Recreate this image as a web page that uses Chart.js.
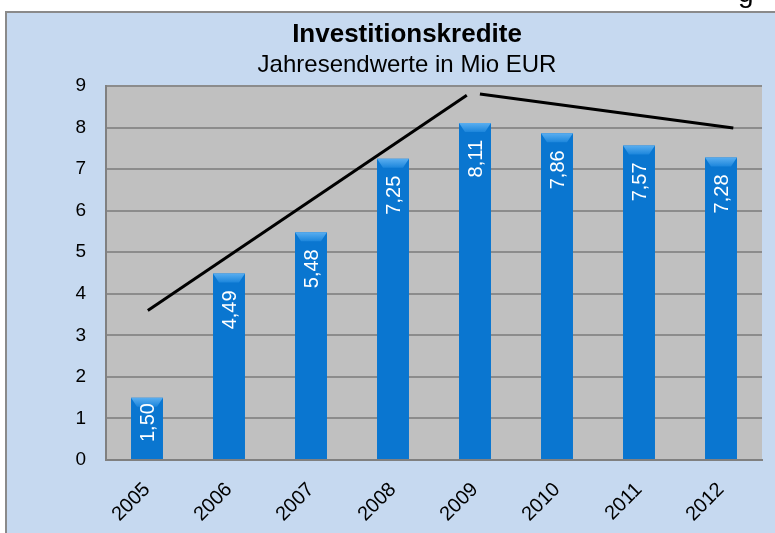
<!DOCTYPE html>
<html>
<head>
<meta charset="utf-8">
<script src="https://cdn.jsdelivr.net/npm/chart.js@4.4.1/dist/chart.umd.min.js"></script>
<style>
  html, body { margin: 0; padding: 0; background: #ffffff; }
  #wrap { width: 775px; height: 533px; position: relative; }
</style>
</head>
<body>
<div id="wrap"><canvas id="c" width="775" height="533"></canvas></div>
<script>
// ---- data ----
const years = ['2005', '2006', '2007', '2008', '2009', '2010', '2011', '2012'];
const credits = [1.50, 4.49, 5.48, 7.25, 8.11, 7.86, 7.57, 7.28];
const yTicks = [0, 1, 2, 3, 4, 5, 6, 7, 8, 9];
// hand-drawn trend arrow (category index, value)
const trendRise = [{x: 0.01, y: 3.60}, {x: 3.90, y: 8.78}];
const trendFall = [{x: 4.06, y: 8.81}, {x: 7.15, y: 7.99}];
const titleText = 'Investitionskredite';
const subtitleText = 'Jahresendwerte in Mio EUR';

const FONT = '"Liberation Sans", Arial, Helvetica, sans-serif';

const panelPlugin = {
  id: 'panel',
  beforeDraw(chart) {
    const ctx = chart.ctx;
    const W = chart.width, H = chart.height;
    ctx.save();
    ctx.fillStyle = '#ffffff';
    ctx.fillRect(0, 0, W, H);
    // cut-off text fragment above the panel
    ctx.fillStyle = '#000000';
    ctx.font = '28px ' + FONT;
    ctx.textBaseline = 'alphabetic';
    ctx.fillText('g', 738, 2);
    ctx.fillStyle = '#c6d9f0';
    ctx.fillRect(6, 12, W - 6, H - 12);
    ctx.strokeStyle = '#8a8a8a';
    ctx.lineWidth = 2;
    ctx.beginPath();
    ctx.moveTo(6, H);
    ctx.lineTo(6, 12);
    ctx.lineTo(W, 12);
    ctx.stroke();
    const a = chart.chartArea;
    ctx.fillStyle = '#c0c0c0';
    ctx.fillRect(a.left, a.top, a.right - a.left, a.bottom - a.top);
    ctx.restore();
  }
};

const barDecor = {
  id: 'barDecor',
  afterDatasetsDraw(chart) {
    const ctx = chart.ctx;
    const meta = chart.getDatasetMeta(0);
    ctx.save();
    meta.data.forEach((bar, i) => {
      const half = bar.width / 2;
      const l = bar.x - half, r = bar.x + half, t = bar.y;
      // top bevel
      const g = ctx.createLinearGradient(0, t, 0, t + 9);
      g.addColorStop(0, '#5aaef0');
      g.addColorStop(1, '#1c86dc');
      ctx.fillStyle = g;
      ctx.beginPath();
      ctx.moveTo(l, t);
      ctx.lineTo(r, t);
      ctx.lineTo(r - 6, t + 9);
      ctx.lineTo(l + 6, t + 9);
      ctx.closePath();
      ctx.fill();
      // value label
      const txt = credits[i].toFixed(2).replace('.', ',');
      ctx.font = '20px ' + FONT;
      const len = ctx.measureText(txt).width;
      const h = bar.base - bar.y;
      const off = Math.min(17, h - len - 17);
      ctx.translate(bar.x, bar.y + off);
      ctx.rotate(-Math.PI / 2);
      ctx.fillStyle = '#ffffff';
      ctx.textAlign = 'right';
      ctx.textBaseline = 'middle';
      ctx.fillText(txt, 0, 1);
      ctx.setTransform(1, 0, 0, 1, 0, 0);
    });
    ctx.restore();
  }
};

function barGradient(context) {
  const chart = context.chart;
  const el = context.element;
  if (!chart.chartArea || !el || el.x === undefined || !el.width) return '#0a76d0';
  const x0 = el.x - el.width / 2, x1 = el.x + el.width / 2;
  const g = chart.ctx.createLinearGradient(x0, 0, x1, 0);
  g.addColorStop(0, '#0a5ea8');
  g.addColorStop(0.15, '#0a76d0');
  g.addColorStop(0.6, '#0b7ad6');
  g.addColorStop(1, '#0a5ca4');
  return g;
}

new Chart(document.getElementById('c'), {
  data: {
    labels: years,
    datasets: [
      {
        type: 'bar',
        data: credits,
        backgroundColor: barGradient,
        borderWidth: 0,
        grouped: false,
        barPercentage: 0.39,
        categoryPercentage: 1.0,
        xAxisID: 'x',
        order: 2
      },
      {
        type: 'line',
        data: trendRise,
        xAxisID: 'x2',
        borderColor: '#000000',
        borderWidth: 3,
        pointRadius: 0,
        fill: false,
        order: 1
      },
      {
        type: 'line',
        data: trendFall,
        xAxisID: 'x2',
        borderColor: '#000000',
        borderWidth: 3,
        pointRadius: 0,
        fill: false,
        order: 1
      }
    ]
  },
  options: {
    responsive: false,
    animation: false,
    devicePixelRatio: 1,
    layout: { padding: { left: 52, right: 13, top: 12, bottom: 0 } },
    plugins: {
      legend: { display: false },
      tooltip: { enabled: false },
      title: {
        display: true,
        text: titleText,
        color: '#000000',
        font: { family: FONT, size: 26, weight: 'bold' },
        padding: { top: 7, bottom: 1 }
      },
      subtitle: {
        display: true,
        text: subtitleText,
        color: '#000000',
        font: { family: FONT, size: 24 },
        padding: { top: 0, bottom: 6 }
      }
    },
    scales: {
      x: {
        type: 'category',
        offset: true,
        grid: { display: false, drawTicks: false },
        border: { display: true, color: '#808080', width: 2 },
        ticks: {
          color: '#000000',
          font: { family: FONT, size: 20 },
          maxRotation: 45,
          minRotation: 45,
          padding: 18
        },
        afterFit(scale) { scale.height = 73; }
      },
      x2: {
        type: 'linear',
        min: -0.5,
        max: 7.5,
        display: false
      },
      y: {
        type: 'linear',
        min: 0,
        max: 9,
        afterBuildTicks(scale) { scale.ticks = yTicks.map(v => ({ value: v })); },
        grid: { color: '#8c8c8c', lineWidth: 2, drawTicks: false },
        border: { display: true, color: '#808080', width: 2 },
        ticks: {
          color: '#000000',
          font: { family: FONT, size: 19 },
          padding: 20
        },
        afterFit(scale) { scale.width = 54; }
      }
    }
  },
  plugins: [panelPlugin, barDecor]
});
</script>
</body>
</html>
